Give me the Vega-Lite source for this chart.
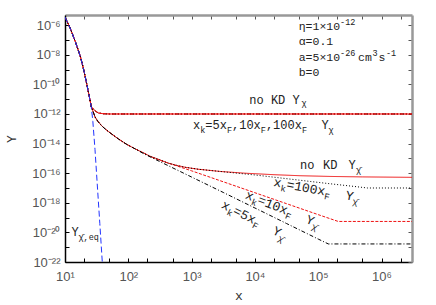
{
"$schema":"https://vega.github.io/schema/vega-lite/v6.json",
"width":347,"height":247,
"autosize":{"type":"none"},
"padding":{"left":65,"top":15,"right":24,"bottom":43},
"background":"white",
"config":{"view":{"stroke":null},"axis":{"grid":false}},
"datasets":{
"curves":[
{"s":"c100","x":10,"y":3.55e-6},{"s":"c100","x":12.13,"y":6.03e-7},{"s":"c100","x":14.55,"y":7.76e-8},{"s":"c100","x":17.46,"y":7.94e-9},{"s":"c100","x":19.72,"y":1.0e-9},{"s":"c100","x":22.23,"y":9.12e-11},{"s":"c100","x":24.55,"y":1.12e-11},{"s":"c100","x":26.0,"y":3.09e-12},
{"s":"c100","x":28.18,"y":2.09e-12},{"s":"c100","x":30.2,"y":1.585e-12},{"s":"c100","x":33.57,"y":1.175e-12},{"s":"c100","x":39.81,"y":1.047e-12},{"s":"c100","x":50.1,"y":1e-12},{"s":"c100","x":3032000,"y":1e-12},
{"s":"c5","x":10,"y":3.55e-6},{"s":"c5","x":12.13,"y":6.03e-7},{"s":"c5","x":14.55,"y":7.76e-8},{"s":"c5","x":17.46,"y":7.94e-9},{"s":"c5","x":19.72,"y":1.0e-9},{"s":"c5","x":22.23,"y":9.12e-11},{"s":"c5","x":24.55,"y":1.12e-11},{"s":"c5","x":26.0,"y":3.09e-12},
{"s":"c5","x":28.18,"y":2.09e-12},{"s":"c5","x":30.2,"y":1.585e-12},{"s":"c5","x":33.57,"y":1.175e-12},{"s":"c5","x":39.81,"y":1.047e-12},{"s":"c5","x":50.1,"y":1e-12},{"s":"c5","x":3032000,"y":1e-12},
{"s":"c0","x":10,"y":3.55e-6},{"s":"c0","x":12.13,"y":6.03e-7},{"s":"c0","x":14.55,"y":7.76e-8},{"s":"c0","x":17.46,"y":7.94e-9},{"s":"c0","x":19.72,"y":1.0e-9},{"s":"c0","x":22.23,"y":9.12e-11},{"s":"c0","x":24.55,"y":1.12e-11},{"s":"c0","x":26.0,"y":3.09e-12},
{"s":"c0","x":28.18,"y":2.09e-12},{"s":"c0","x":30.2,"y":1.585e-12},{"s":"c0","x":33.57,"y":1.175e-12},{"s":"c0","x":39.81,"y":1.047e-12},{"s":"c0","x":50.1,"y":1e-12},{"s":"c0","x":3032000,"y":1e-12},
{"s":"c10","x":10,"y":3.55e-6},{"s":"c10","x":12.13,"y":6.03e-7},{"s":"c10","x":14.55,"y":7.76e-8},{"s":"c10","x":17.46,"y":7.94e-9},{"s":"c10","x":19.72,"y":1.0e-9},{"s":"c10","x":22.23,"y":9.12e-11},{"s":"c10","x":24.55,"y":1.12e-11},{"s":"c10","x":26.0,"y":3.09e-12},
{"s":"c10","x":28.18,"y":2.09e-12},{"s":"c10","x":30.2,"y":1.585e-12},{"s":"c10","x":33.57,"y":1.175e-12},{"s":"c10","x":39.81,"y":1.047e-12},{"s":"c10","x":50.1,"y":1e-12},{"s":"c10","x":3032000,"y":1e-12},
{"s":"b0","x":10,"y":3.55e-6},{"s":"b0","x":12.13,"y":6.03e-7},{"s":"b0","x":14.55,"y":7.76e-8},{"s":"b0","x":17.46,"y":7.94e-9},{"s":"b0","x":19.72,"y":1.0e-9},{"s":"b0","x":22.23,"y":9.12e-11},{"s":"b0","x":24.55,"y":1.12e-11},{"s":"b0","x":26.0,"y":3.09e-12},
{"s":"b0","x":27.86,"y":1.413e-12},{"s":"b0","x":29.79,"y":6.31e-13},{"s":"b0","x":33.11,"y":3.16e-13},{"s":"b0","x":38.02,"y":1.585e-13},{"s":"b0","x":42.85,"y":1e-13},{"s":"b0","x":51.4,"y":5.37e-14},{"s":"b0","x":69.5,"y":2.09e-14},{"s":"b0","x":94.2,"y":8.91e-15},{"s":"b0","x":127.4,"y":4.47e-15},{"s":"b0","x":177.8,"y":2.24e-15},{"s":"b0","x":219.8,"y":1.413e-15},{"s":"b0","x":316.2,"y":7.94e-16},{"s":"b0","x":427.6,"y":4.79e-16},{"s":"b0","x":580.8,"y":3.39e-16},{"s":"b0","x":794.3,"y":2.51e-16},{"s":"b0","x":1259,"y":1.862e-16},{"s":"b0","x":2799,"y":1.318e-16},{"s":"b0","x":6950,"y":1e-16},{"s":"b0","x":19950,"y":7.94e-17},{"s":"b0","x":51400,"y":6.76e-17},{"s":"b0","x":158500,"y":6.03e-17},{"s":"b0","x":501200,"y":5.62e-17},{"s":"b0","x":3032000,"y":5.25e-17},
{"s":"b10","x":10,"y":3.55e-6},{"s":"b10","x":12.13,"y":6.03e-7},{"s":"b10","x":14.55,"y":7.76e-8},{"s":"b10","x":17.46,"y":7.94e-9},{"s":"b10","x":19.72,"y":1.0e-9},{"s":"b10","x":22.23,"y":9.12e-11},{"s":"b10","x":24.55,"y":1.12e-11},{"s":"b10","x":26.0,"y":3.09e-12},
{"s":"b10","x":27.86,"y":1.413e-12},{"s":"b10","x":29.79,"y":6.31e-13},{"s":"b10","x":33.11,"y":3.16e-13},{"s":"b10","x":38.02,"y":1.585e-13},{"s":"b10","x":42.85,"y":1e-13},{"s":"b10","x":51.4,"y":5.37e-14},{"s":"b10","x":69.5,"y":2.09e-14},{"s":"b10","x":94.2,"y":8.91e-15},{"s":"b10","x":127.4,"y":4.47e-15},{"s":"b10","x":177.8,"y":2.24e-15},
{"s":"b10","x":219.8,"y":1.349e-15},{"s":"b10","x":316.2,"y":7.41e-16},{"s":"b10","x":1000,"y":1.445e-16},{"s":"b10","x":3162,"y":2.63e-17},{"s":"b10","x":10000,"y":4.79e-18},{"s":"b10","x":31620,"y":8.71e-19},{"s":"b10","x":100000,"y":1.585e-19},{"s":"b10","x":207000,"y":5.5e-20},{"s":"b10","x":3032000,"y":5.5e-20},
{"s":"b100","x":10,"y":3.55e-6},{"s":"b100","x":12.13,"y":6.03e-7},{"s":"b100","x":14.55,"y":7.76e-8},{"s":"b100","x":17.46,"y":7.94e-9},{"s":"b100","x":19.72,"y":1.0e-9},{"s":"b100","x":22.23,"y":9.12e-11},{"s":"b100","x":24.55,"y":1.12e-11},{"s":"b100","x":26.0,"y":3.09e-12},
{"s":"b100","x":27.86,"y":1.413e-12},{"s":"b100","x":29.79,"y":6.31e-13},{"s":"b100","x":33.11,"y":3.16e-13},{"s":"b100","x":38.02,"y":1.585e-13},{"s":"b100","x":42.85,"y":1e-13},{"s":"b100","x":51.4,"y":5.37e-14},{"s":"b100","x":69.5,"y":2.09e-14},{"s":"b100","x":94.2,"y":8.91e-15},{"s":"b100","x":127.4,"y":4.47e-15},{"s":"b100","x":177.8,"y":2.24e-15},{"s":"b100","x":219.8,"y":1.413e-15},{"s":"b100","x":316.2,"y":7.94e-16},{"s":"b100","x":427.6,"y":4.79e-16},{"s":"b100","x":580.8,"y":3.39e-16},{"s":"b100","x":794.3,"y":2.51e-16},{"s":"b100","x":1259,"y":1.862e-16},{"s":"b100","x":2799,"y":1.318e-16},
{"s":"b100","x":5012,"y":1.023e-16},{"s":"b100","x":10000,"y":7.59e-17},{"s":"b100","x":25120,"y":4.79e-17},{"s":"b100","x":50120,"y":3.39e-17},{"s":"b100","x":158500,"y":1.905e-17},{"s":"b100","x":380200,"y":1.259e-17},{"s":"b100","x":602600,"y":1e-17},{"s":"b100","x":3032000,"y":1e-17},
{"s":"b5","x":10,"y":3.55e-6},{"s":"b5","x":12.13,"y":6.03e-7},{"s":"b5","x":14.55,"y":7.76e-8},{"s":"b5","x":17.46,"y":7.94e-9},{"s":"b5","x":19.72,"y":1.0e-9},{"s":"b5","x":22.23,"y":9.12e-11},{"s":"b5","x":24.55,"y":1.12e-11},{"s":"b5","x":26.0,"y":3.09e-12},
{"s":"b5","x":27.86,"y":1.413e-12},{"s":"b5","x":29.79,"y":6.31e-13},{"s":"b5","x":33.11,"y":3.16e-13},{"s":"b5","x":38.02,"y":1.585e-13},{"s":"b5","x":42.85,"y":1e-13},{"s":"b5","x":51.4,"y":5.37e-14},{"s":"b5","x":69.5,"y":2.09e-14},{"s":"b5","x":94.2,"y":8.91e-15},{"s":"b5","x":127.4,"y":4.47e-15},
{"s":"b5","x":177.8,"y":2.0e-15},{"s":"b5","x":316.2,"y":6.03e-16},{"s":"b5","x":1000,"y":5.5e-17},{"s":"b5","x":3162,"y":5.01e-18},{"s":"b5","x":10000,"y":4.47e-19},{"s":"b5","x":31620,"y":3.98e-20},{"s":"b5","x":100000,"y":3.55e-21},{"s":"b5","x":144500,"y":1.66e-21},{"s":"b5","x":3032000,"y":1.66e-21},
{"s":"eq","x":10,"y":3.55e-6},{"s":"eq","x":12.13,"y":6.03e-7},{"s":"eq","x":14.55,"y":7.76e-8},{"s":"eq","x":17.46,"y":7.94e-9},{"s":"eq","x":19.72,"y":1.0e-9},{"s":"eq","x":22.23,"y":9.12e-11},{"s":"eq","x":24.55,"y":1.12e-11},{"s":"eq","x":26.0,"y":3.09e-12},
{"s":"eq","x":27.54,"y":3.16e-13},{"s":"eq","x":29.79,"y":3.89e-15},{"s":"eq","x":32.73,"y":7.76e-18},{"s":"eq","x":35.48,"y":3.98e-20},{"s":"eq","x":38.82,"y":1e-22}
],
"labels":[
{"g":"m12","t":"no KD Y","x":8157,"y":5.12e-12},
{"g":"m12","t":"x","x":1052,"y":9.25e-14},
{"g":"m12","t":"=5x","x":1646,"y":9.25e-14},
{"g":"m12","t":",10x","x":4346,"y":9.25e-14},
{"g":"m12","t":",100x","x":14923,"y":9.25e-14},
{"g":"m12","t":"Y","x":112400,"y":9.25e-14},
{"g":"m12","t":"no","x":51590,"y":1.92e-16},
{"g":"m12","t":"KD","x":119100,"y":1.92e-16},
{"g":"m12","t":"Y","x":301000,"y":1.92e-16},
{"g":"m12","t":"Y","x":12.67,"y":5.71e-21},
{"g":"s85","t":"\u03c7","x":54480,"y":3.75e-12},
{"g":"s85","t":"k","x":1367,"y":5.2e-14},
{"g":"s85","t":"F","x":3612,"y":5.2e-14},
{"g":"s85","t":"F","x":12393,"y":5.2e-14},
{"g":"s85","t":"F","x":55270,"y":5.2e-14},
{"g":"s85","t":"\u03c7","x":146000,"y":5.2e-14},
{"g":"s85","t":"\u03c7\u0304","x":395600,"y":1.114e-16},
{"g":"s85","t":"\u03c7\u0304,eq","x":16.34,"y":3.06e-21},
{"g":"p","t":"\u03b7=1\u00d710","x":49200,"y":4.73e-7},
{"g":"p","t":"\u03b1=0.1","x":49200,"y":4.25e-8},
{"g":"p","t":"a=5\u00d710","x":49200,"y":3.81e-9},
{"g":"p","t":"cm","x":425400,"y":3.81e-9},
{"g":"p","t":"s","x":896800,"y":3.81e-9},
{"g":"p","t":"b=0","x":49200,"y":3.69e-10},
{"g":"ps","t":"-12","x":221800,"y":1.03e-6},
{"g":"ps","t":"-26","x":221800,"y":8.3e-9},
{"g":"ps","t":"3","x":720800,"y":8.3e-9},
{"g":"ps","t":"-1","x":1178000,"y":8.3e-9},
{"g":"r1m","t":"x","x":19310,"y":1.365e-17},
{"g":"r1m","t":"=100x","x":31000,"y":9.4e-18},
{"g":"r1m","t":"Y","x":264800,"y":1.72e-18},
{"g":"r1s","t":"k","x":24920,"y":6.37e-18},
{"g":"r1s","t":"F","x":122200,"y":1.83e-18},
{"g":"r1s","t":"\u03c7\u0304","x":342000,"y":8.04e-19},
{"g":"r2m","t":"x","x":6850,"y":2.11e-18},
{"g":"r2m","t":"=10x","x":10680,"y":9.68e-19},
{"g":"r2m","t":"Y","x":62120,"y":4.67e-20},
{"g":"r2s","t":"k","x":8490,"y":8.04e-19},
{"g":"r2s","t":"F","x":29240,"y":9.55e-20},
{"g":"r2s","t":"\u03c7\u0304","x":77240,"y":1.78e-20},
{"g":"r3m","t":"x","x":2861,"y":4.81e-19},
{"g":"r3m","t":"=5x","x":4395,"y":1.89e-19},
{"g":"r3m","t":"Y","x":18490,"y":8.3e-21},
{"g":"r3s","t":"k","x":3483,"y":1.7e-19},
{"g":"r3s","t":"F","x":8835,"y":2.24e-20},
{"g":"r3s","t":"\u03c7\u0304","x":22500,"y":2.92e-21}
]
},
"encoding":{
"x":{"field":"x","type":"quantitative","scale":{"type":"log","domain":[10,3032000],"nice":false},"axis":null},
"y":{"field":"y","type":"quantitative","scale":{"type":"log","domain":[1e-22,4.887e-6],"nice":false},"axis":null}
},
"layer":[
{"data":{"name":"curves"},
 "mark":{"type":"line","strokeWidth":1,"clip":true},
 "encoding":{
  "x":{"field":"x","type":"quantitative","scale":{"type":"log","domain":[10,3032000],"nice":false},
   "axis":{"orient":"bottom","values":[10,20,50,100,200,500,1000,2000,5000,10000,20000,50000,100000,200000,500000,1000000,2000000],
    "labelExpr":"abs(log(datum.value)/LN10-round(log(datum.value)/LN10))<0.01?['','10\u00b9','10\u00b2','10\u00b3','10\u2074','10\u2075','10\u2076'][round(log(datum.value)/LN10)]:''",
    "tickSize":-4,"tickColor":"#000","domainColor":"#000","domainWidth":1.5,
    "labelColor":"#555","labelFont":"Liberation Sans","labelFontSize":13,"labelPadding":12,"labelFlush":false,"labelOverlap":false,
    "title":"x","titleFont":"Liberation Mono","titleFontSize":13,"titleFontWeight":"normal","titleColor":"#333","titlePadding":6}},
  "y":{"field":"y","type":"quantitative","scale":{"type":"log","domain":[1e-22,4.887e-6],"nice":false},
   "axis":{"orient":"left","values":[1e-22,1e-21,1e-20,1e-19,1e-18,1e-17,1e-16,1e-15,1e-14,1e-13,1e-12,1e-11,1e-10,1e-9,1e-8,1e-7,1e-6],
    "labelExpr":"['10\u207b\u00b2\u00b2','','10\u207b\u00b2\u2070','','10\u207b\u00b9\u2078','','10\u207b\u00b9\u2076','','10\u207b\u00b9\u2074','','10\u207b\u00b9\u00b2','','10\u207b\u00b9\u2070','','10\u207b\u2078','','10\u207b\u2076'][round(log(datum.value)/LN10)+22]",
    "tickSize":-4,"tickColor":"#000","domainColor":"#000","domainWidth":1.5,
    "labelColor":"#555","labelFont":"Liberation Sans","labelFontSize":13,"labelPadding":9,"labelFlush":false,"labelOverlap":false,
    "title":"Y","titleFont":"Liberation Mono","titleFontSize":13,"titleFontWeight":"normal","titleColor":"#333","titlePadding":13}},
  "color":{"field":"s","type":"nominal","scale":{"domain":["b0","c0","b10","c10","b100","c100","b5","c5","eq"],"range":["#ee1111","#ee1111","#ee1111","#ee1111","#000000","#000000","#000000","#000000","#2233ff"]},"legend":null},
  "strokeDash":{"field":"s","type":"nominal","scale":{"domain":["b0","c0","b10","c10","b100","c100","b5","c5","eq"],"range":[[1,0],[1,0],[3,1.5],[3,1.5],[1,2],[1,2],[4,2,1,2],[4,2,1,2],[6,3]]},"legend":null}
 }},
{"data":{"name":"labels"},"transform":[{"filter":"datum.g==='p'"}],
 "mark":{"type":"text","align":"left","baseline":"alphabetic","font":"Liberation Mono","fontSize":11.5,"fill":"#222"},
 "encoding":{
  "x":{"field":"x","type":"quantitative","scale":{"type":"log","domain":[10,3032000],"nice":false},
   "axis":{"orient":"top","values":[10,20,50,100,200,500,1000,2000,5000,10000,20000,50000,100000,200000,500000,1000000,2000000],"labels":false,"title":null,"tickSize":-4,"tickColor":"#555","domainColor":"#999","domainWidth":2.5}},
  "y":{"field":"y","type":"quantitative","scale":{"type":"log","domain":[1e-22,4.887e-6],"nice":false},
   "axis":{"orient":"right","values":[1e-22,1e-21,1e-20,1e-19,1e-18,1e-17,1e-16,1e-15,1e-14,1e-13,1e-12,1e-11,1e-10,1e-9,1e-8,1e-7,1e-6],"labels":false,"title":null,"tickSize":-4,"tickColor":"#555","domainColor":"#999","domainWidth":2.5}},
  "text":{"field":"t"}
 }},
{"data":{"name":"labels"},"transform":[{"filter":"datum.g==='ps'"}],
 "mark":{"type":"text","align":"left","baseline":"alphabetic","font":"Liberation Mono","fontSize":8.5,"fill":"#222"},
 "encoding":{"text":{"field":"t"}}},
{"data":{"name":"labels"},"transform":[{"filter":"datum.g==='m12'"}],
 "mark":{"type":"text","align":"left","baseline":"alphabetic","font":"Liberation Mono","fontSize":12,"fill":"#222"},
 "encoding":{"text":{"field":"t"}}},
{"data":{"name":"labels"},"transform":[{"filter":"datum.g==='s85'"}],
 "mark":{"type":"text","align":"left","baseline":"alphabetic","font":"Liberation Mono","fontSize":8.5,"fill":"#222"},
 "encoding":{"text":{"field":"t"}}},
{"data":{"name":"labels"},"transform":[{"filter":"datum.g==='r1m'"}],
 "mark":{"type":"text","align":"left","baseline":"alphabetic","font":"Liberation Mono","fontSize":13,"angle":10.5,"fill":"#222"},
 "encoding":{"text":{"field":"t"}}},
{"data":{"name":"labels"},"transform":[{"filter":"datum.g==='r1s'"}],
 "mark":{"type":"text","align":"left","baseline":"alphabetic","font":"Liberation Mono","fontSize":9,"angle":10.5,"fill":"#222"},
 "encoding":{"text":{"field":"t"}}},
{"data":{"name":"labels"},"transform":[{"filter":"datum.g==='r2m'"}],
 "mark":{"type":"text","align":"left","baseline":"alphabetic","font":"Liberation Mono","fontSize":13,"angle":22,"fill":"#222"},
 "encoding":{"text":{"field":"t"}}},
{"data":{"name":"labels"},"transform":[{"filter":"datum.g==='r2s'"}],
 "mark":{"type":"text","align":"left","baseline":"alphabetic","font":"Liberation Mono","fontSize":9,"angle":22,"fill":"#222"},
 "encoding":{"text":{"field":"t"}}},
{"data":{"name":"labels"},"transform":[{"filter":"datum.g==='r3m'"}],
 "mark":{"type":"text","align":"left","baseline":"alphabetic","font":"Liberation Mono","fontSize":13,"angle":27,"fill":"#222"},
 "encoding":{"text":{"field":"t"}}},
{"data":{"name":"labels"},"transform":[{"filter":"datum.g==='r3s'"}],
 "mark":{"type":"text","align":"left","baseline":"alphabetic","font":"Liberation Mono","fontSize":9,"angle":27,"fill":"#222"},
 "encoding":{"text":{"field":"t"}}}
],
"resolve":{"axis":{"x":"independent","y":"independent"}}
}
